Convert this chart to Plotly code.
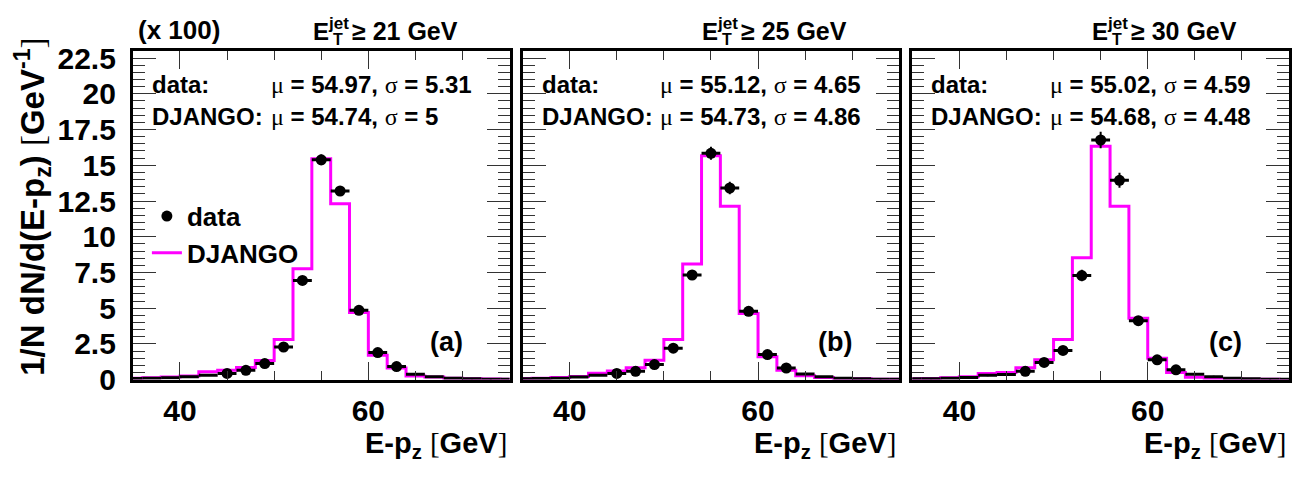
import plotly.graph_objects as go

# ---------------- data ----------------
edges = list(range(34, 78, 2))          # bin edges (GeV)
centers = list(range(35, 77, 2))        # bin centres (GeV)

cuts = ["21", "25", "30"]
panel_tags = ["(a)", "(b)", "(c)"]
data_mu = ["54.97", "55.12", "55.02"]
data_sigma = ["5.31", "4.65", "4.59"]
mc_mu = ["54.74", "54.73", "54.68"]
mc_sigma = ["5", "4.86", "4.48"]

mc_a = [0.10, 0.12, 0.18, 0.25, 0.54, 0.65, 0.85, 1.33, 2.81, 7.76, 15.46, 12.30, 4.69, 1.71, 0.81, 0.25, 0.18, 0.10, 0.06, 0.04, 0.03]
mc_b = [0.08, 0.10, 0.15, 0.22, 0.45, 0.60, 0.82, 1.36, 2.81, 8.09, 15.66, 12.13, 4.63, 1.59, 0.66, 0.26, 0.15, 0.08, 0.05, 0.03, 0.02]
mc_c = [0.05, 0.08, 0.12, 0.20, 0.43, 0.50, 0.82, 1.38, 2.81, 8.53, 16.33, 12.13, 4.30, 1.50, 0.50, 0.17, 0.08, 0.05, 0.03, 0.02, 0.01]

data_a = [0.08, 0.10, 0.12, 0.20, 0.30, 0.43, 0.65, 1.12, 2.28, 6.94, 15.38, 13.20, 4.85, 1.89, 0.91, 0.38, 0.20, 0.10, 0.05, 0.03, 0.02]
data_b = [0.05, 0.08, 0.10, 0.18, 0.30, 0.43, 0.58, 1.05, 2.20, 7.32, 15.84, 13.41, 4.78, 1.75, 0.81, 0.39, 0.20, 0.10, 0.05, 0.03, 0.02]
data_c = [0.05, 0.05, 0.10, 0.15, 0.30, 0.35, 0.58, 1.20, 2.04, 7.28, 16.77, 13.95, 4.12, 1.38, 0.68, 0.38, 0.20, 0.10, 0.05, 0.03, 0.02]

err_a = [0.02, 0.02, 0.03, 0.04, 0.05, 0.06, 0.08, 0.10, 0.14, 0.25, 0.38, 0.35, 0.20, 0.12, 0.08, 0.05, 0.04, 0.03, 0.02, 0.02, 0.01]
err_b = [0.02, 0.02, 0.03, 0.04, 0.05, 0.07, 0.09, 0.12, 0.17, 0.32, 0.46, 0.43, 0.25, 0.15, 0.10, 0.07, 0.05, 0.03, 0.02, 0.02, 0.01]
err_c = [0.02, 0.02, 0.03, 0.04, 0.06, 0.07, 0.10, 0.15, 0.20, 0.40, 0.58, 0.53, 0.30, 0.17, 0.12, 0.08, 0.06, 0.04, 0.02, 0.02, 0.01]

# which bins get a visible marker (others are drawn as bare error bars)
marked_a = [0]*5 + [1]*10 + [0]*6
marked_b = [0]*5 + [1]*10 + [0]*6
marked_c = [0]*6 + [1]*9 + [0]*6

mcs = [mc_a, mc_b, mc_c]
datas = [data_a, data_b, data_c]
errs = [err_a, err_b, err_c]
marks = [marked_a, marked_b, marked_c]

# ---------------- layout helpers ----------------
OFF = 8                       # default page body margin
W, H = 1300 - 2 * OFF, 482 - 2 * OFF
FONT = "Liberation Sans, Arial, Helvetica, sans-serif"
MAG = "#ff00ff"
lefts = [133, 523, 913]
PW = 377
TOP, BOT = 44, 392


def px(x):
    return (x - OFF) / W


def py(y):
    return 1 - (y - OFF) / H


def pick(vals, mask, keep):
    return [v for v, m in zip(vals, mask) if m == keep]


fig = go.Figure()
annotations = []
bold = dict(family=FONT, color="black", weight="bold")
thin = "<span style=\"font-family:'Liberation Serif';font-weight:normal\">{}</span>"

for i in range(3):
    xa = "x" if i == 0 else f"x{i+1}"
    ya = "y" if i == 0 else f"y{i+1}"
    mc = mcs[i]
    dat = datas[i]
    er = errs[i]
    mk = marks[i]

    fig.add_trace(go.Scatter(
        x=edges, y=mc + [mc[-1]], mode="lines", line_shape="hv",
        line=dict(color=MAG, width=3), name="<b>DJANGO</b>",
        showlegend=(i == 0), legendrank=2, xaxis=xa, yaxis=ya))

    # tail bins: error bars only
    fig.add_trace(go.Scatter(
        x=pick(centers, mk, 0), y=pick(dat, mk, 0), mode="markers",
        marker=dict(color="black", size=1, opacity=0),
        error_x=dict(type="constant", value=1, thickness=3, width=0, color="black"),
        error_y=dict(type="data", array=pick(er, mk, 0), thickness=2, width=0, color="black"),
        showlegend=False, hoverinfo="skip", xaxis=xa, yaxis=ya))

    fig.add_trace(go.Scatter(
        x=pick(centers, mk, 1), y=pick(dat, mk, 1), mode="markers",
        marker=dict(color="black", size=11, symbol="circle", opacity=1, line=dict(width=0)),
        error_x=dict(type="constant", value=1, thickness=3, width=0, color="black"),
        error_y=dict(type="data", array=pick(er, mk, 1), thickness=2, width=0, color="black"),
        name="<b>data</b>", showlegend=(i == 0), legendrank=1, xaxis=xa, yaxis=ya))

    L = lefts[i]
    axx = dict(domain=[px(L), px(L + PW)], range=[35, 75], anchor=ya,
               tickvals=[40, 60], ticks="inside", ticklen=18, tickwidth=1, tickcolor="#333",
               minor=dict(tickvals=[45, 50, 55, 65, 70], ticks="inside", ticklen=9,
                          tickwidth=1, tickcolor="#333"),
               showline=True, linewidth=3, linecolor="black", mirror="allticks",
               showgrid=False, zeroline=False,
               tickfont=dict(size=30, **bold), ticklabelstandoff=2)
    axy = dict(domain=[py(BOT), py(TOP)], range=[0, 23.0], anchor=xa,
               dtick=2.5, tick0=0, ticks="inside", ticklen=23, tickwidth=1, tickcolor="#333",
               minor=dict(dtick=0.5, ticks="inside", ticklen=12, tickwidth=1, tickcolor="#333"),
               showline=True, linewidth=3, linecolor="black", mirror="allticks",
               showgrid=False, zeroline=False, showticklabels=(i == 0),
               tickfont=dict(size=30, **bold), ticklabelstandoff=8)
    fig.update_layout(**{("xaxis" if i == 0 else f"xaxis{i+1}"): axx,
                         ("yaxis" if i == 0 else f"yaxis{i+1}"): axy})

    annotations += [
        dict(text="E", x=px(L + 178), y=py(23), xanchor="left", yanchor="middle",
             font=dict(size=24, **bold)),
        dict(text="jet", x=px(L + 193), y=py(15), xanchor="left", yanchor="middle",
             font=dict(size=17, **bold)),
        dict(text="T", x=px(L + 198), y=py(32), xanchor="left", yanchor="middle",
             font=dict(size=16, **bold)),
        dict(text=f"≥ {cuts[i]} GeV", x=px(L + 217), y=py(23), xanchor="left", yanchor="middle",
             font=dict(size=25, **bold)),
        dict(text="data:", x=px(L + 17), y=py(80), xanchor="left", yanchor="middle",
             font=dict(size=24, **bold)),
        dict(text=f"{thin.format('μ')} = {data_mu[i]}, {thin.format('σ')} = {data_sigma[i]}",
             x=px(L + 136), y=py(80), xanchor="left", yanchor="middle", font=dict(size=24, **bold)),
        dict(text="DJANGO:", x=px(L + 17), y=py(113), xanchor="left", yanchor="middle",
             font=dict(size=24, **bold)),
        dict(text=f"{thin.format('μ')} = {mc_mu[i]}, {thin.format('σ')} = {mc_sigma[i]}",
             x=px(L + 136), y=py(113), xanchor="left", yanchor="middle", font=dict(size=24, **bold)),
        dict(text=panel_tags[i], x=px(L + 332), y=py(352), xanchor="right", yanchor="middle",
             font=dict(size=27, **bold)),
        dict(text=f"E-p<sub>z</sub> {thin.format('[')}GeV{thin.format(']')}",
             x=px(L + 375), y=py(461), xanchor="right", yanchor="middle",
             font=dict(size=29, **bold), borderpad=0),
    ]

annotations += [
    dict(text="(x 100)", x=px(136), y=py(22), xanchor="left", yanchor="middle",
         font=dict(size=26, **bold)),
    dict(text=f"1/N dN/d(E-p<sub>z</sub>) {thin.format('[')}GeV<sup>-1</sup>{thin.format(']')}",
         x=px(33), y=py(209), xanchor="center", yanchor="middle", textangle=-90,
         font=dict(size=33, **bold)),
]
for a in annotations:
    a.update(xref="paper", yref="paper", showarrow=False)

fig.update_layout(
    width=W, height=H,
    margin=dict(l=0, r=0, t=0, b=0),
    paper_bgcolor="white", plot_bgcolor="white",
    annotations=annotations,
    showlegend=True,
    legend=dict(x=px(147), y=py(194), xanchor="left", yanchor="top",
                font=dict(size=26, **bold),
                bgcolor="rgba(0,0,0,0)", itemwidth=30, traceorder="normal"),
)

fig.write_html("out.html")
